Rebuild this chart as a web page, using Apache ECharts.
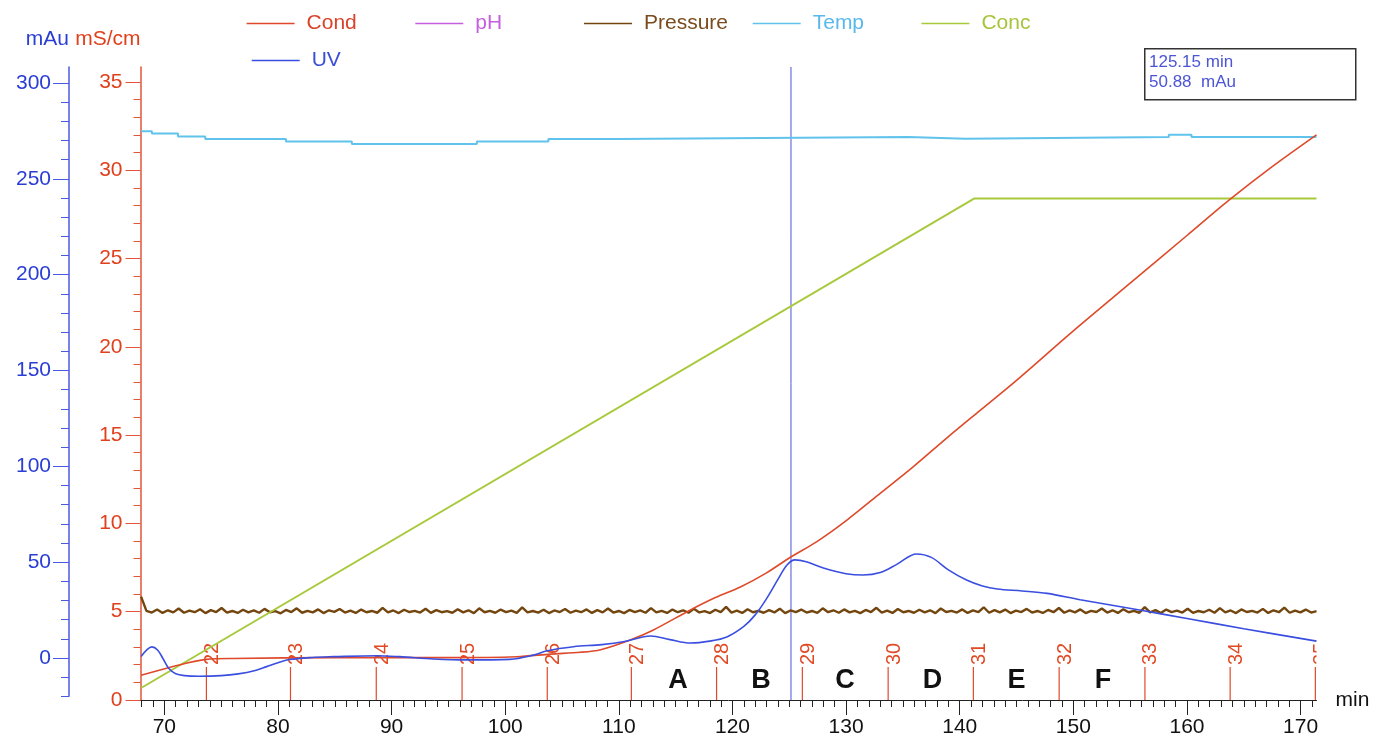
<!DOCTYPE html>
<html>
<head>
<meta charset="utf-8">
<title>Chromatogram</title>
<script src="https://cdn.jsdelivr.net/npm/echarts@6/dist/echarts.min.js"></script>
<style>
  html, body { margin: 0; padding: 0; background: #fff; }
  #chart { width: 1377px; height: 740px; }
</style>
</head>
<body>
<div id="chart"></div>
<script>
// axis ranges / ticks
const timeMin = 67.9
const timeMax = 171.4
const xMajorTicks = [70, 80, 90, 100, 110, 120, 130, 140, 150, 160, 170]
const xMinorTicks = [68, 69, 71, 72, 73, 74, 75, 76, 77, 78, 79, 81, 82, 83, 84, 85, 86, 87, 88, 89, 91, 92, 93, 94, 95, 96, 97, 98, 99,
  101, 102, 103, 104, 105, 106, 107, 108, 109, 111, 112, 113, 114, 115, 116, 117, 118, 119, 121, 122, 123, 124, 125, 126, 127, 128, 129,
  131, 132, 133, 134, 135, 136, 137, 138, 139, 141, 142, 143, 144, 145, 146, 147, 148, 149, 151, 152, 153, 154, 155, 156, 157, 158, 159,
  161, 162, 163, 164, 165, 166, 167, 168, 169, 171]
const condMax = 35.84
const condTicks = [0, 5, 10, 15, 20, 25, 30, 35]
const condMinorTicks = [1, 2, 3, 4, 6, 7, 8, 9, 11, 12, 13, 14, 16, 17, 18, 19, 21, 22, 23, 24, 26, 27, 28, 29, 31, 32, 33, 34]
const uvMin = -20
const uvMax = 308.35
const uvTicks = [0, 50, 100, 150, 200, 250, 300]
const uvMinorTicks = [-20, -10, 10, 20, 30, 40, 60, 70, 80, 90, 110, 120, 130, 140, 160, 170, 180, 190, 210, 220, 230, 240, 260, 270, 280, 290]

// UV (mAu)
const uvTime = [67.95, 68.5, 68.9, 69.4, 69.9, 70.4, 71.0, 71.8, 73, 75, 76.5, 78, 79, 80, 81, 83, 84.9, 88.7, 90.7, 93.7, 96.6, 100.4,
  102.5, 103.7, 106, 108.5, 110.5, 112.8, 114.5, 116.3, 118, 119.5, 121, 122, 123, 124, 124.8, 125.5, 126.5, 128, 130, 131.5, 133, 134.5,
  136.2, 137.5, 139, 140.6, 142, 143.3, 145.5, 147.7, 150.6, 155.7, 160, 165, 171.4]
const uvVals = [0.8, 4.5, 5.8, 4.2, -0.5, -5.5, -8.2, -9.2, -9.5, -9.2, -8.3, -6.5, -4.5, -2.5, -0.8, 0.3, 0.7, 1.2, 0.7, -0.5, -1, -0.7,
  1.5, 3.8, 5.9, 7.0, 8.6, 11.5, 9.6, 7.8, 8.8, 11, 16.5, 22.5, 31, 41, 48.5, 51.2, 50.2, 47, 44, 43.3, 44.6, 49, 54.3, 52.5, 46, 40.7,
  37.6, 36, 35, 33.7, 30.4, 25.2, 20.6, 15.3, 8.8]

// Cond (mS/cm)
const condTime = [67.95, 70.2, 72, 73.7, 76, 85, 95, 101, 104, 106.6, 108.4, 111, 113, 116.3, 118.5, 120.7, 123, 124.9, 127.5, 130.1,
  133, 135.9, 138.8, 141.8, 145, 150, 155, 160, 163.7, 167.5, 171.4]
const condVals = [1.4, 1.8, 2.1, 2.3, 2.35, 2.4, 2.4, 2.45, 2.6, 2.7, 2.85, 3.4, 3.95, 5.1, 5.8, 6.4, 7.2, 8.0, 9.0, 10.2,
  11.7, 13.2, 14.8, 16.4, 18.1, 20.9, 23.6, 26.3, 28.3, 30.2, 32.0]

// Temp (stepped)
const tempTime = [67.95, 68.9, 71.2, 73.6, 80.7, 86.5, 97.5, 103.8, 109.9, 135.5, 140.5, 158.4, 160.4, 171.4]
const tempVals = [32.2, 32.07, 31.9, 31.77, 31.62, 31.48, 31.62, 31.77, 31.88, 31.78, 31.88, 32.0, 31.88, 31.88]

// Conc
const concTime = [67.95, 141.3, 171.4]
const concVals = [0.68, 28.4, 28.4]

// Pressure (noisy trace, read as values along the run)
const pressureStart = 67.95
const pressureEnd = 171.4
const pressureVals = [
  5.85, 5.05, 4.95, 5.12, 4.93, 5.08, 4.96, 5.18, 4.94, 5.06, 4.97, 5.14, 4.92, 5.09, 4.98, 5.21, 4.95, 5.04, 4.93, 5.11,
  4.96, 5.07, 4.94, 5.16, 4.97, 5.03, 4.91, 5.10, 4.98, 5.19, 4.94, 5.05, 4.96, 5.13, 4.92, 5.08, 4.99, 5.15, 4.95, 5.06,
  4.93, 5.12, 4.97, 5.04, 4.94, 5.22, 4.96, 5.07, 4.92, 5.11, 4.98, 5.05, 4.95, 5.17, 4.93, 5.09, 4.97, 5.03, 4.94, 5.14,
  4.96, 5.08, 4.92, 5.19, 4.97, 5.05, 4.94, 5.12, 4.98, 5.06, 4.93, 5.24, 4.96, 5.04, 4.95, 5.11, 4.92, 5.07, 4.98, 5.15,
  4.94, 5.06, 4.97, 5.13, 4.93, 5.09, 4.96, 5.18, 4.95, 5.04, 4.92, 5.10, 4.98, 5.07, 4.94, 5.20, 4.96, 5.05, 4.93, 5.12,
  4.97, 5.08, 4.94, 5.16, 4.96, 5.03, 4.92, 5.11, 4.98, 5.27, 4.95, 5.06, 4.93, 5.14, 4.97, 5.05, 4.94, 5.09, 4.96, 5.17,
  4.92, 5.07, 4.98, 5.12, 4.95, 5.04, 4.93, 5.19, 4.97, 5.08, 4.94, 5.13, 4.96, 5.05, 4.92, 5.10, 4.98, 5.22, 4.95, 5.06,
  4.93, 5.15, 4.97, 5.04, 4.94, 5.11, 4.96, 5.08, 4.92, 5.18, 4.98, 5.05, 4.95, 5.13, 4.93, 5.07, 4.97, 5.25, 4.94, 5.09,
  4.96, 5.12, 4.92, 5.06, 4.98, 5.16, 4.95, 5.04, 4.93, 5.10, 4.97, 5.21, 4.94, 5.07, 4.96, 5.13, 4.92, 5.05, 4.98, 5.18,
  4.95, 5.08, 4.93, 5.14, 4.97, 5.05, 4.94, 5.26, 4.96, 5.09, 4.92, 5.12, 4.98, 5.06, 4.95, 5.17, 4.93, 5.04, 4.97, 5.11,
  4.94, 5.20, 4.96, 5.07, 4.92, 5.13, 4.98, 5.05, 4.95, 5.16, 4.93, 5.08, 4.97, 5.23, 4.94, 5.06, 4.96, 5.12, 4.95, 5.03
]

// fractions
const fractionTime = [73.7, 81.1, 88.65, 96.2, 103.7, 111.1, 118.6, 126.15, 133.7, 141.2, 148.75, 156.3, 163.8, 171.3]
const fractionLabels = ['22', '23', '24', '25', '26', '27', '28', '29', '30', '31', '32', '33', '34', '35']
const poolTime = [115.2, 122.5, 129.9, 137.6, 145.0, 152.6]
const poolLabels = ['A', 'B', 'C', 'D', 'E', 'F']
const poolLevel = 1.08

// cursor
const cursorTime = 125.15
const cursorUV = 50.88

const FONT = '"Liberation Sans", Arial, sans-serif'
const RED = '#de4a2a'
const BLUE = '#3a4ee0'

const zip = (a, b) => a.map((t, i) => [t, b[i]])
const pressureStep = (pressureEnd - pressureStart) / (pressureVals.length - 1)
const pressureData = pressureVals.map((v, i) => [pressureStart + i * pressureStep, v])

const legendItems = [
  { name: 'Cond', color: '#d9432a', left: 246.6, top: 13 },
  { name: 'pH', color: '#c65ee0', left: 415.3, top: 13 },
  { name: 'Pressure', color: '#7a4b1c', left: 584, top: 13 },
  { name: 'Temp', color: '#59b8ec', left: 752.7, top: 13 },
  { name: 'Conc', color: '#a6c53a', left: 921.4, top: 13 },
  { name: 'UV', color: '#3b4ed8', left: 251.7, top: 50 }
]

const myChart = echarts.init(document.getElementById('chart'))

const xCommon = { type: 'value', min: timeMin, max: timeMax, splitLine: { show: false } }

const option = {
  animation: false,
  backgroundColor: '#fff',
  legend: legendItems.map(l => ({
    left: l.left,
    top: l.top,
    icon: 'rect',
    itemWidth: 48,
    itemHeight: 1.5,
    selectedMode: false,
    padding: 0,
    data: [{ name: l.name, textStyle: { color: l.color } }],
    textStyle: { fontSize: 21, fontFamily: FONT, padding: [0, 0, 0, 7] }
  })),
  grid: [
    { left: 140.5, right: 60.5, top: 67, bottom: 40 },
    { left: 140.5, right: 60.5, top: 67, bottom: 43.66 }
  ],
  xAxis: [
    {
      ...xCommon, gridIndex: 0, position: 'bottom',
      name: 'min', nameLocation: 'end', nameGap: 19,
      nameTextStyle: { fontSize: 21, color: '#111', fontFamily: FONT, padding: [10, 0, 0, 0] },
      axisLine: { lineStyle: { color: '#222', width: 1 } },
      axisTick: { customValues: xMinorTicks, length: 7, lineStyle: { color: '#222' } },
      axisLabel: { customValues: xMajorTicks, fontSize: 21, color: '#111', fontFamily: FONT, margin: 17 }
    },
    {
      ...xCommon, gridIndex: 0, position: 'bottom',
      axisLine: { show: false },
      axisTick: { customValues: xMajorTicks, length: 15, lineStyle: { color: '#222' } },
      axisLabel: { show: false }
    },
    { ...xCommon, gridIndex: 1, show: false }
  ],
  yAxis: [
    {
      type: 'value', gridIndex: 0, min: 0, max: condMax, position: 'left',
      name: 'mS/cm', nameLocation: 'end', nameGap: 17,
      nameTextStyle: { fontSize: 21, color: '#e0401c', fontFamily: FONT, align: 'right' },
      splitLine: { show: false },
      axisLine: { show: true, lineStyle: { color: '#e2543a', width: 1.5 } },
      axisTick: { show: true, customValues: condTicks, length: 15, lineStyle: { color: '#e2543a' } },
      axisLabel: { customValues: condTicks, fontSize: 21, color: '#e0401c', fontFamily: FONT, margin: 18 }
    },
    {
      type: 'value', gridIndex: 1, min: uvMin, max: uvMax, position: 'left', offset: 71.5,
      name: 'mAu', nameLocation: 'end', nameGap: 17,
      nameTextStyle: { fontSize: 21, color: '#2a3dd4', fontFamily: FONT, align: 'right' },
      splitLine: { show: false },
      axisLine: { show: true, lineStyle: { color: '#4a5ae0', width: 1.5 } },
      axisTick: { show: true, customValues: uvTicks, length: 16, lineStyle: { color: '#4a5ae0' } },
      axisLabel: { customValues: uvTicks, fontSize: 21, color: '#2a3dd4', fontFamily: FONT, margin: 18 }
    },
    {
      type: 'value', gridIndex: 1, min: uvMin, max: uvMax, position: 'left', offset: 71.5,
      splitLine: { show: false },
      axisLine: { show: false },
      axisTick: { show: true, customValues: uvMinorTicks, length: 8, lineStyle: { color: '#4a5ae0' } },
      axisLabel: { show: false }
    },
    {
      type: 'value', gridIndex: 0, min: 0, max: condMax, position: 'left',
      splitLine: { show: false },
      axisLine: { show: false },
      axisTick: { show: true, customValues: condMinorTicks, length: 7, lineStyle: { color: '#e2543a' } },
      axisLabel: { show: false }
    }
  ],
  series: [
    {
      name: 'pH', type: 'line', xAxisIndex: 0, yAxisIndex: 0, color: '#c65ee0', data: []
    },
    {
      name: 'Pressure', type: 'line', xAxisIndex: 0, yAxisIndex: 0, color: '#74460f',
      showSymbol: false, lineStyle: { width: 2.4 }, data: pressureData
    },
    {
      name: 'Temp', type: 'line', xAxisIndex: 0, yAxisIndex: 0, color: '#60c3ec', step: 'end',
      showSymbol: false, lineStyle: { width: 2 }, data: zip(tempTime, tempVals)
    },
    {
      name: 'Conc', type: 'line', xAxisIndex: 0, yAxisIndex: 0, color: '#a9c93c',
      showSymbol: false, lineStyle: { width: 2 }, data: zip(concTime, concVals)
    },
    {
      name: 'Cond', type: 'line', xAxisIndex: 0, yAxisIndex: 0, color: RED, smooth: 0.3,
      showSymbol: false, lineStyle: { width: 1.6 }, data: zip(condTime, condVals)
    },
    {
      name: 'UV', type: 'line', xAxisIndex: 2, yAxisIndex: 1, color: BLUE, smooth: 0.35,
      showSymbol: false, lineStyle: { width: 1.6 }, data: zip(uvTime, uvVals)
    },
    {
      // fraction marks
      type: 'custom', xAxisIndex: 0, yAxisIndex: 0, silent: true,
      data: fractionTime.map(t => [t, 0]),
      renderItem: (params, api) => {
        const p = api.coord([api.value(0), 0])
        const cs = params.coordSys
        return {
          type: 'group',
          clipPath: { type: 'rect', shape: { x: cs.x, y: cs.y, width: cs.width, height: cs.height } },
          children: [
            { type: 'line', shape: { x1: p[0], y1: p[1], x2: p[0], y2: p[1] - 33 }, style: { stroke: RED, lineWidth: 1.2 } },
            {
              type: 'text', x: p[0] + 6, y: p[1] - 46, rotation: Math.PI / 2,
              style: { text: fractionLabels[params.dataIndex], fill: '#e04a25', font: '20px ' + FONT, align: 'center', verticalAlign: 'middle' }
            }
          ]
        }
      }
    },
    {
      // pool letters
      type: 'custom', xAxisIndex: 0, yAxisIndex: 0, silent: true,
      data: poolTime.map(t => [t, poolLevel]),
      renderItem: (params, api) => {
        const p = api.coord([api.value(0), api.value(1)])
        return {
          type: 'text', x: p[0], y: p[1],
          style: {
            text: poolLabels[params.dataIndex], fill: '#111', font: 'bold 27px ' + FONT,
            align: 'center', verticalAlign: 'middle',
            shadowColor: 'rgba(0,0,0,0.45)', shadowBlur: 3, shadowOffsetX: 2, shadowOffsetY: 2
          }
        }
      }
    },
    {
      // cursor
      type: 'custom', xAxisIndex: 0, yAxisIndex: 0, silent: true,
      data: [[cursorTime, cursorUV]],
      renderItem: (params, api) => {
        const p0 = api.coord([api.value(0), 0])
        const p1 = api.coord([api.value(0), condMax])
        return { type: 'line', shape: { x1: p0[0], y1: p0[1], x2: p1[0], y2: p1[1] }, style: { stroke: '#4a55d6', lineWidth: 1 } }
      }
    }
  ],
  graphic: [
    {
      type: 'rect', left: 1144, top: 48, z: 100,
      shape: { width: 211, height: 51 },
      style: { fill: '#fff', stroke: '#333', lineWidth: 1.5 }
    },
    {
      type: 'text', left: 1149, top: 54, z: 101,
      style: { text: cursorTime.toFixed(2) + ' min', fill: '#4b55d6', font: '17px ' + FONT }
    },
    {
      type: 'text', left: 1149, top: 74, z: 101,
      style: { text: cursorUV.toFixed(2) + '  mAu', fill: '#4b55d6', font: '17px ' + FONT }
    }
  ]
}

myChart.setOption(option)
</script>
</body>
</html>
